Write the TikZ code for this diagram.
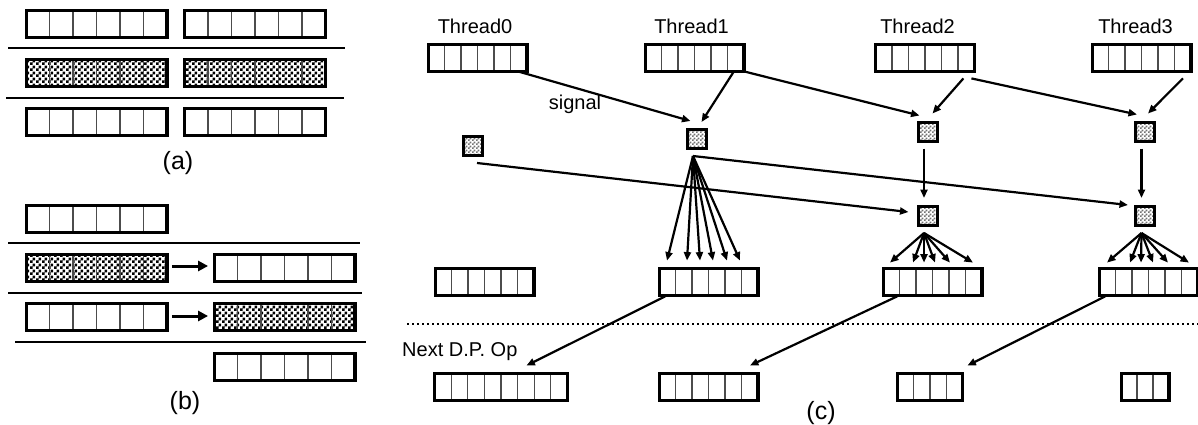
\documentclass[tikz,border=0pt]{standalone}
\usepackage{fontspec}
\setmainfont{Liberation Sans}
\usetikzlibrary{arrows.meta,calc,patterns}

% black/white checks for the filled buffers
\pgfdeclarepatternformonly{coarsechecks}{\pgfpointorigin}{\pgfpoint{6pt}{6pt}}{\pgfpoint{6pt}{6pt}}{%
  \pgfpathrectangle{\pgfpointorigin}{\pgfpoint{3pt}{3pt}}%
  \pgfpathrectangle{\pgfpoint{3pt}{3pt}}{\pgfpoint{3pt}{3pt}}%
  \pgfusepath{fill}}
% small grey checks for the signal flags
\pgfdeclarepatternformonly{finechecks}{\pgfpointorigin}{\pgfpoint{4pt}{4pt}}{\pgfpoint{4pt}{4pt}}{%
  \pgfpathrectangle{\pgfpointorigin}{\pgfpoint{2pt}{2pt}}%
  \pgfpathrectangle{\pgfpoint{2pt}{2pt}}{\pgfpoint{2pt}{2pt}}%
  \pgfusepath{fill}}

\tikzset{
  cellrow/.style n args={2}{draw, line width=3.2pt, inner sep=0pt, outer sep=0pt,
    minimum width=#1*#2pt-3.2pt, minimum height=26.8pt,
    path picture={\foreach \k in {1,...,#1}{%
      \draw[line width=1.2pt, black!70]
        ($(path picture bounding box.south west)!{\k/#1}!(path picture bounding box.south east)$) --
        ($(path picture bounding box.north west)!{\k/#1}!(path picture bounding box.north east)$);}}},
  checkrow/.style n args={2}{cellrow={#1}{#2}, pattern=coarsechecks, pattern color=black},
  flag/.style={draw, line width=3pt, inner sep=0pt, outer sep=0pt, minimum size=19pt,
    pattern=finechecks, pattern color=black!55},
  sep/.style={line width=2.4pt},
  lab/.style={font=\fontsize{20}{24}\selectfont, inner sep=0pt},
  panel/.style={font=\fontsize{25}{30}\selectfont, inner sep=0pt},
  moveto/.style={line width=3pt, -{Triangle[length=10pt,width=10pt]}},
  link/.style={line width=2.2pt, -{Triangle[length=8.5pt,width=7pt]}},
  divider/.style={line width=2.2pt, dash pattern=on 2.2pt off 2.8pt},
}

\begin{document}
\begin{tikzpicture}[x=1pt,y=1pt]
\fill[white] (0,0) rectangle (1198,-425);
\path[use as bounding box] (0,0) rectangle (1198,-425);

% ---------------- (a) ----------------
\node[cellrow={6}{24}]  (a11) at (96.5,-24) {};
\node[cellrow={6}{24}]  (a12) at (255,-24) {};
\draw[sep] (8,-48) -- (345,-48);
\node[checkrow={6}{24}] (a21) at (96.5,-73) {};
\node[checkrow={6}{24}] (a22) at (255,-73) {};
\draw[sep] (6,-98) -- (344,-98);
\node[cellrow={6}{24}]  (a31) at (96.5,-122) {};
\node[cellrow={6}{24}]  (a32) at (255,-122) {};
\node[panel] (la) at (178,-163) {(a)};

% ---------------- (b) ----------------
\node[cellrow={6}{24}]  (b1)  at (96.5,-219) {};
\draw[sep] (8,-243) -- (360,-243);
\node[checkrow={6}{24}] (b2l) at (96.5,-268) {};
\node[cellrow={6}{24}]  (b2r) at (284.5,-268) {};
\draw[moveto] ($(b2l.east)+(5,2)$) -- ($(b2r.west)+(-6,2)$);
\draw[sep] (8,-293) -- (362,-293);
\node[cellrow={6}{24}]  (b3l) at (96.5,-317) {};
\node[checkrow={6}{24}] (b3r) at (284.5,-317) {};
\draw[moveto] ($(b3l.east)+(5,1)$) -- ($(b3r.west)+(-6,1)$);
\draw[sep] (15,-342) -- (366,-342);
\node[cellrow={6}{24}]  (b4)  at (284.5,-367) {};
\node[panel] (lb) at (185,-403) {(b)};

% ---------------- (c) ----------------
% thread buffers
\node[cellrow={6}{17}] (T0) at (477.5,-58) {};
\node[cellrow={6}{17}] (T1) at (694.5,-58) {};
\node[cellrow={6}{17}] (T2) at (925,-58) {};
\node[cellrow={6}{17}] (T3) at (1141.5,-58) {};
\node[lab, anchor=base] (lt0) at (475,-34) {Thread0};
\node[lab, anchor=base] (lt1) at (691.5,-34) {Thread1};
\node[lab, anchor=base] (lt2) at (917.5,-34) {Thread2};
\node[lab, anchor=base] (lt3) at (1135.5,-34) {Thread3};

% signal flags
\node[flag] (s0)  at (473,-145.5) {};
\node[flag] (s1)  at (697,-138.5) {};
\node[flag] (s2)  at (928,-132) {};
\node[flag] (s3)  at (1144.5,-132) {};
\node[flag] (s2b) at (928,-215.5) {};
\node[flag] (s3b) at (1144.5,-215.5) {};
\node[lab, anchor=base] (lsig) at (575,-110) {signal};

% second-level buffers
\node[cellrow={6}{17}] (L0) at (484.5,-282) {};
\node[cellrow={6}{17}] (L1) at (708.5,-282) {};
\node[cellrow={6}{17}] (L2) at (932.5,-282) {};
\node[cellrow={6}{17}] (L3) at (1148.5,-282) {};

% next data-parallel operation
\draw[divider] (407,-324) -- (1198,-324);
\node[lab, anchor=base west] (lnext) at (402,-356) {Next D.P. Op};
\node[cellrow={8}{17}] (B0) at (501,-387) {};
\node[cellrow={6}{17}] (B1) at (708.5,-387) {};
\node[cellrow={4}{17}] (B2) at (930,-387) {};
\node[cellrow={3}{17}] (B3) at (1145,-387) {};
\node[panel] (lc) at (821,-413) {(c)};

% threads signal the flags
\draw[link] ($(T0.south east)+(-9,0)$)  -- ($(s1.north west)+(3,8)$);
\draw[link] ($(T1.south east)+(-10,0)$) -- ($(s1.north east)+(-5,7)$);
\draw[link] (T1.south east)             -- ($(s2.north west)+(1,7)$);
\draw[link] ($(T2.south east)+(-11,-7)$) -- ($(s2.north east)+(-5,9)$);
\draw[link] ($(T2.south east)+(-3,-7)$)  -- ($(s3.north west)+(2,8)$);
\draw[link] ($(T3.south east)+(-8,-7)$)  -- ($(s3.north east)+(-6,9)$);

% flag to flag
\draw[link] ($(s2.south)+(-4,-7)$) -- ($(s2b.north)+(-4,8)$);
\draw[link] ($(s3.south)+(-3,-7)$) -- ($(s3b.north)+(-3,8)$);
\draw[link] ($(s0.south)+(4,-8)$)  -- ($(s2b.west)+(-10,3.5)$);
\draw[link] ($(s1.south)+(-4,-8)$) -- ($(s3b.west)+(-7,10.5)$);

% fan-out from flags to buffers
\foreach \dx in {-41.5,-21.5,-8.5,4.5,18.5,31.5}
  \draw[link] ($(s1.south)+(-4,-8)$) -- ($(L1.north)+(\dx,8)$);
\foreach \dx in {-42.5,-19.5,-8.5,2.5,17.5,40.5}
  \draw[link] ($(s2b.south)+(-4,-8)$) -- ($(L2.north)+(\dx,6)$);
\foreach \dx in {-41.5,-18.5,-7.5,4.5,19.5,40.5}
  \draw[link] ($(s3b.south)+(-3,-8)$) -- ($(L3.north)+(\dx,6)$);

% hand-over to the next operation
\draw[link] ($(L1.south west)+(6,-1)$)  -- ($(B0.north east)+(-41,8)$);
\draw[link] ($(L2.south west)+(14,-1)$) -- ($(B1.north east)+(-8,8)$);
\draw[link] ($(L3.south west)+(6,-1)$)  -- ($(B2.north east)+(5,8)$);
\end{tikzpicture}
\end{document}
